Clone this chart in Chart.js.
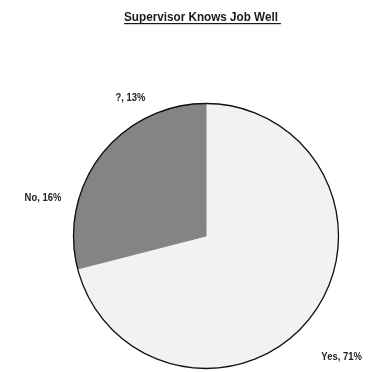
<!DOCTYPE html>
<html>
<head>
<meta charset="utf-8">
<script src="https://cdn.jsdelivr.net/npm/chart.js@4/dist/chart.umd.min.js"></script>
<style>
  html, body { margin: 0; padding: 0; background: #ffffff; }
  #wrap { width: 378px; height: 372px; position: relative; }
</style>
</head>
<body>
<div id="wrap"><canvas id="c"></canvas></div>
<script>
// Survey answers and their shares (percent)
const categories = ['Yes', 'No', '?'];
const shares = [71, 16, 13];
const sliceColors = ['#f2f2f2', '#848484', '#848484'];
const chartTitle = 'Supervisor Knows Job Well';

const FONT = '"Liberation Sans", Arial, sans-serif';

// Draw text squeezed horizontally, like a narrow typeface
function narrowText(ctx, text, x, y, squeeze) {
  ctx.save();
  ctx.translate(x, y);
  ctx.scale(squeeze, 1);
  ctx.fillText(text, 0, 0);
  ctx.restore();
}

// Outer rim drawn as a single black circle (no lines between slices)
const rimPlugin = {
  id: 'rim',
  afterDatasetsDraw(chart) {
    const arc = chart.getDatasetMeta(0).data[0];
    if (!arc) return;
    const ctx = chart.ctx;
    ctx.save();
    ctx.beginPath();
    ctx.arc(arc.x, arc.y, arc.outerRadius, 0, Math.PI * 2);
    ctx.strokeStyle = '#111111';
    ctx.lineWidth = 1.3;
    ctx.stroke();
    ctx.restore();
  }
};

// "Category, NN%" labels placed just outside each slice
const sliceLabelPlugin = {
  id: 'sliceLabels',
  afterDraw(chart, args, opts) {
    const ctx = chart.ctx;
    const meta = chart.getDatasetMeta(0);
    ctx.save();
    ctx.font = 'bold 11px ' + FONT;
    ctx.fillStyle = '#222222';
    ctx.textAlign = 'center';
    ctx.textBaseline = 'middle';
    meta.data.forEach((arc, i) => {
      const mid = (arc.startAngle + arc.endAngle) / 2;
      const r = arc.outerRadius + opts.gap;
      const shift = opts.shift[i] || [0, 0];
      const x = arc.x + Math.cos(mid) * r + shift[0];
      const y = arc.y + Math.sin(mid) * r + shift[1];
      narrowText(ctx, categories[i] + ', ' + shares[i] + '%', x, y, 0.86);
    });
    ctx.restore();
  }
};

// Underlined title
const titlePlugin = {
  id: 'underlinedTitle',
  afterDraw(chart) {
    const ctx = chart.ctx;
    ctx.save();
    ctx.font = 'bold 13px ' + FONT;
    ctx.fillStyle = '#1a1a1a';
    ctx.textAlign = 'center';
    ctx.textBaseline = 'alphabetic';
    const cx = 201, base = 21, squeeze = 0.9;
    narrowText(ctx, chartTitle, cx, base, squeeze);
    const w = ctx.measureText(chartTitle).width * squeeze;
    ctx.fillRect(cx - w / 2, base + 2, w + 3, 1.2);
    ctx.restore();
  }
};

new Chart(document.getElementById('c'), {
  type: 'pie',
  data: {
    labels: categories,
    datasets: [{
      data: shares,
      backgroundColor: sliceColors,
      borderColor: sliceColors,
      borderWidth: 1
    }]
  },
  options: {
    responsive: true,
    maintainAspectRatio: false,
    animation: false,
    layout: { padding: { left: 73, right: 39, top: 103, bottom: 3 } },
    plugins: {
      legend: { display: false },
      tooltip: { enabled: false },
      title: { display: false },
      sliceLabels: {
        gap: 10,
        shift: [[23, 34], [-25, -3], [-19, -7]]
      }
    }
  },
  plugins: [rimPlugin, sliceLabelPlugin, titlePlugin]
});
</script>
</body>
</html>
